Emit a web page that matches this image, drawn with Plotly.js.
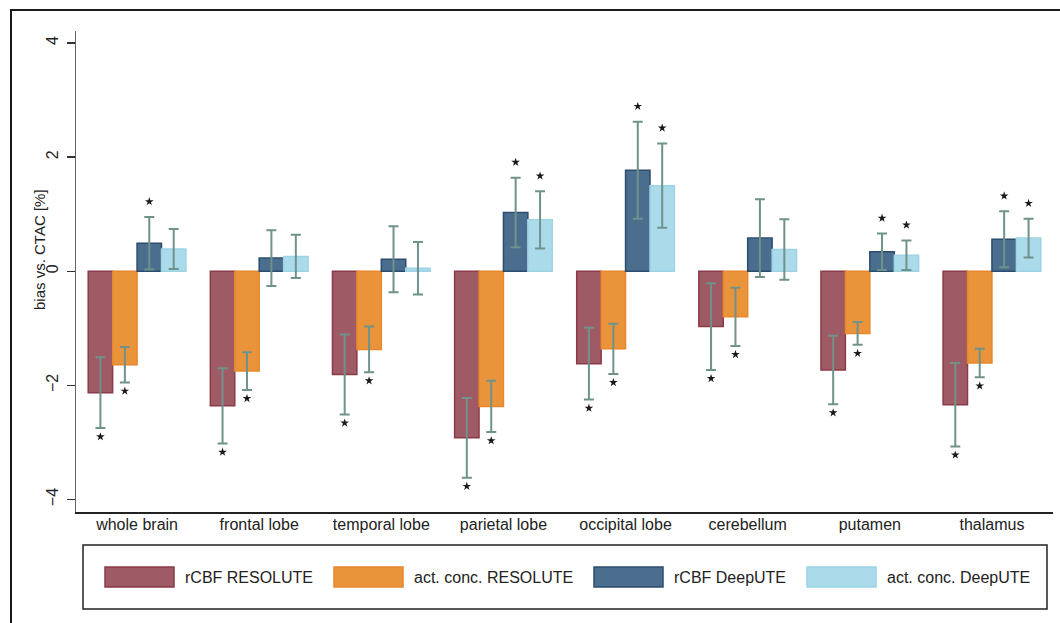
<!DOCTYPE html>
<html>
<head>
<meta charset="utf-8">
<script src="https://cdn.plot.ly/plotly-3.0.1.min.js"></script>
<style>
  html, body { margin: 0; padding: 0; background: #fff; overflow: hidden; }
  #wrap { position: relative; width: 1060px; height: 623px; }
  #chart { position: absolute; left: 0; top: 0; width: 1060px; height: 623px; }
  #frame { position: absolute; left: 10px; top: 9px; width: 1100px; height: 700px;
           border-top: 2px solid #1a1a1a; border-left: 2px solid #1a1a1a; pointer-events: none; }
</style>
</head>
<body>
<div id="wrap">
  <div id="chart"></div>
  <div id="frame"></div>
</div>
<script>
// ---- data ----
const categories = ['whole brain', 'frontal lobe', 'temporal lobe', 'parietal lobe',
                    'occipital lobe', 'cerebellum', 'putamen', 'thalamus'];
const seriesNames = ['rCBF RESOLUTE', 'act. conc. RESOLUTE', 'rCBF DeepUTE', 'act. conc. DeepUTE'];

const rcbfResolute    = [-2.13, -2.36, -1.81, -2.92, -1.62, -0.97, -1.73, -2.34];
const rcbfResoluteErr = [0.62, 0.66, 0.70, 0.70, 0.63, 0.76, 0.60, 0.73];
const actResolute     = [-1.64, -1.75, -1.37, -2.37, -1.36, -0.80, -1.09, -1.61];
const actResoluteErr  = [0.31, 0.33, 0.40, 0.45, 0.44, 0.51, 0.20, 0.25];
const rcbfDeepUTE     = [0.49, 0.23, 0.21, 1.03, 1.77, 0.58, 0.34, 0.56];
const rcbfDeepUTEErr  = [0.46, 0.49, 0.58, 0.61, 0.85, 0.68, 0.32, 0.49];
const actDeepUTE      = [0.39, 0.26, 0.05, 0.90, 1.50, 0.38, 0.28, 0.58];
const actDeepUTEErr   = [0.35, 0.38, 0.46, 0.50, 0.74, 0.53, 0.26, 0.34];

// significance markers (*)
const sigRcbfResolute = [1, 1, 1, 1, 1, 1, 1, 1];
const sigActResolute  = [1, 1, 1, 1, 1, 1, 1, 1];
const sigRcbfDeepUTE  = [1, 0, 0, 1, 1, 0, 1, 1];
const sigActDeepUTE   = [0, 0, 0, 1, 1, 0, 1, 1];

const yTicks = [-4, -2, 0, 2, 4];

// ---- styles ----
const fills = ['#9f5b65', '#e9943b', '#4b6e8e', '#abdbea'];
const lines = ['#8b3a49', '#e8872c', '#2c4d70', '#9dd3e5'];
const errColor = '#6f928a';

const values = [rcbfResolute, actResolute, rcbfDeepUTE, actDeepUTE];
const errs = [rcbfResoluteErr, actResoluteErr, rcbfDeepUTEErr, actDeepUTEErr];
const sigs = [sigRcbfResolute, sigActResolute, sigRcbfDeepUTE, sigActDeepUTE];

const xIdx = categories.map((c, i) => i);
const nSeries = values.length;
const groupWidth = 0.8;
const barW = groupWidth / nSeries;

const traces = [];
values.forEach((vals, k) => {
  traces.push({
    type: 'bar',
    x: xIdx,
    y: vals,
    name: seriesNames[k],
    marker: { color: fills[k], line: { color: lines[k], width: 1.5 } },
    error_y: { type: 'data', array: errs[k], visible: true, color: errColor, thickness: 2, width: 5 },
    showlegend: false,
    hoverinfo: 'y'
  });
});

// stars: placed just beyond the error bar end
const belowOff = 0.15, aboveOff = 0.27;
const sx = [], sy = [];
values.forEach((vals, k) => {
  vals.forEach((v, i) => {
    if (!sigs[k][i]) return;
    sx.push(i + (k - (nSeries - 1) / 2) * barW);
    sy.push(v < 0 ? v - errs[k][i] - belowOff : v + errs[k][i] + aboveOff);
  });
});
traces.push({
  type: 'scatter', mode: 'markers', x: sx, y: sy,
  marker: { symbol: 'star', size: 6.5, color: '#1a1a1a' },
  showlegend: false, hoverinfo: 'skip'
});

// ---- custom legend (Stata style, below plot) ----
const pxX = px => (px - 76) / 977;
const pxY = py => (512 - py) / 481;
const font = 'Liberation Sans, Arial, Helvetica, sans-serif';
const shapes = [{
  type: 'rect', xref: 'paper', yref: 'paper',
  x0: pxX(83), x1: pxX(1047), y0: pxY(609), y1: pxY(545),
  line: { color: '#222', width: 1.5 }, fillcolor: 'rgba(0,0,0,0)'
}];
const annotations = [{
  xref: 'paper', yref: 'paper', x: pxX(40), y: pxY(250),
  text: 'bias vs. CTAC [%]', textangle: -90, showarrow: false,
  xanchor: 'center', yanchor: 'middle', font: { family: font, size: 15, color: '#222' }
}];
const swatchX = [105, 334, 594, 807];
seriesNames.forEach((nm, k) => {
  shapes.push({
    type: 'rect', xref: 'paper', yref: 'paper',
    x0: pxX(swatchX[k]), x1: pxX(swatchX[k] + 69), y0: pxY(587), y1: pxY(567),
    line: { color: lines[k], width: 1.5 }, fillcolor: fills[k]
  });
  annotations.push({
    xref: 'paper', yref: 'paper', x: pxX(swatchX[k] + 78), y: pxY(577),
    text: nm, showarrow: false, xanchor: 'left', yanchor: 'middle',
    font: { family: font, size: 16, color: '#222' }
  });
});

const layout = {
  width: 1060, height: 623, autosize: false,
  margin: { l: 76, r: 7, t: 31, b: 111, pad: 0 },
  paper_bgcolor: '#fff', plot_bgcolor: '#fff',
  barmode: 'group', bargap: 1 - groupWidth, bargroupgap: 0,
  font: { family: font, color: '#222' },
  xaxis: {
    range: [-0.5, categories.length - 0.5],
    tickmode: 'array', tickvals: xIdx, ticktext: categories,
    ticks: '', showline: true, linecolor: '#222', linewidth: 1.5,
    showgrid: false, zeroline: false, ticklabelstandoff: -3,
    tickfont: { family: font, size: 16, color: '#222' }
  },
  yaxis: {
    range: [-4.22, 4.21],
    tickmode: 'array', tickvals: yTicks, ticktext: yTicks.map(v => v < 0 ? '\u2212' + Math.abs(v) : String(v)),
    ticks: 'outside', ticklen: 8, tickwidth: 1.3, tickcolor: '#333',
    showline: true, linecolor: '#666', linewidth: 1.5,
    showgrid: false, zeroline: false, tickangle: -90, ticklabelstandoff: 2,
    tickfont: { family: font, size: 16, color: '#222' }
  },
  shapes: shapes,
  annotations: annotations,
  showlegend: false
};

Plotly.newPlot('chart', traces, layout, { displayModeBar: false, staticPlot: true });
</script>
</body>
</html>
